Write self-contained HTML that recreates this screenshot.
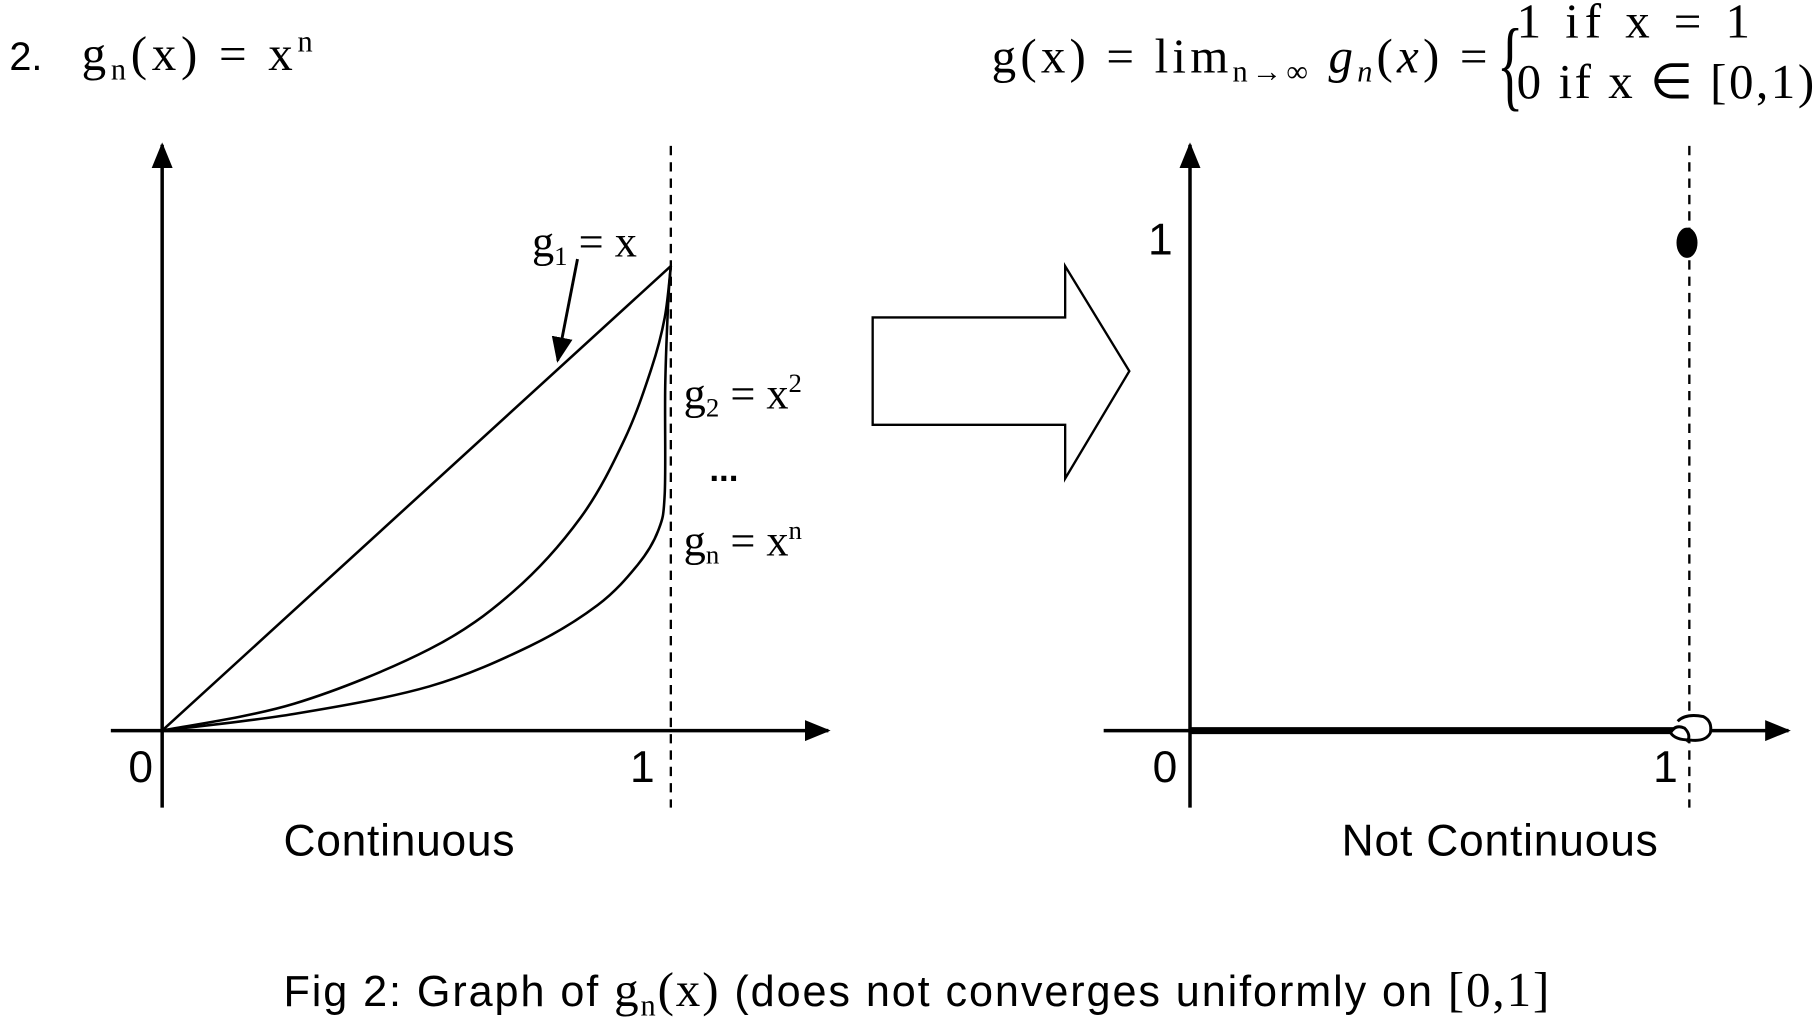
<!DOCTYPE html>
<html><head><meta charset="utf-8"><style>
html,body{margin:0;padding:0;background:#fff;}
svg{display:block;}
.s{font-family:"Liberation Sans",sans-serif;}
.r{font-family:"Liberation Serif",serif;}
</style></head><body>
<svg id="c" width="1820" height="1020" viewBox="0 0 1560 874" preserveAspectRatio="none" xmlns="http://www.w3.org/2000/svg">
<defs><marker id="ah" markerWidth="22" markerHeight="18" refX="20" refY="9" orient="auto" markerUnits="userSpaceOnUse"><path d="M0,0 L22,9 L0,18 z"/></marker></defs>
<g fill="#000">
<text class="s" x="8" y="60" font-size="34">2.</text>
<text class="r" x="70" y="60" font-size="42" textLength="198" lengthAdjust="spacing">g<tspan font-size="26" dy="8">n</tspan><tspan dy="-8">(x) = x</tspan><tspan font-size="26" dy="-16">n</tspan></text>
<text class="r" x="850" y="62" font-size="42" textLength="425" lengthAdjust="spacing">g(x) = lim<tspan font-size="26" dy="8">n→∞</tspan><tspan dy="-8" font-style="italic"> g</tspan><tspan font-size="26" dy="8" font-style="italic">n</tspan><tspan dy="-8">(</tspan><tspan font-style="italic">x</tspan><tspan>) =</tspan></text>
<text class="r" x="1283" y="84" font-size="86" transform="translate(1283,84) scale(0.55,1) translate(-1283,-84)">{</text>
<text class="r" x="1300" y="32" font-size="42" textLength="200" lengthAdjust="spacing">1   if x = 1</text>
<text class="r" x="1300" y="84" font-size="42" textLength="255" lengthAdjust="spacing">0   if x ∈ [0,1)</text>
</g>
<g id="left"></g>
<g><path d="M748,272 H913 V228 L968,318 L913,410 V364 H748 Z" fill="none" stroke="#000" stroke-width="2"/></g>
<g id="right"></g>
<text class="s" x="243" y="862" font-size="37" textLength="1085" lengthAdjust="spacing">Fig 2: Graph of  <tspan class="r" font-size="42">g</tspan><tspan class="r" font-size="26" dy="8">n</tspan><tspan class="r" font-size="42" dy="-8">(x)</tspan>  (does not converges uniformly on  <tspan class="r" font-size="42">[0,1]</tspan></text>
</svg>
<script>
const g1X=[0,1];
const g1Y=[0,1];
const g2X=[0,0.260,0.525,0.690,0.823,0.909,0.962,0.988,1];
const g2Y=[0,0.058,0.175,0.299,0.459,0.627,0.780,0.889,1];
const gnX=[0,0.260,0.525,0.723,0.856,0.935,0.975,0.988,0.989,0.995,1];
const gnY=[0,0.036,0.095,0.182,0.270,0.357,0.430,0.510,0.743,0.926,1];
const limX=[0,0.98];
const limY=[0,0];
const NS='http://www.w3.org/2000/svg';
function mk(p,t,a){const e=document.createElementNS(NS,t);for(const k in a)e.setAttribute(k,a[k]);p.appendChild(e);return e;}
function chart(gid,ox,x1,y1){
  const g=document.getElementById(gid);
  const sx=v=>ox+v*(x1-ox), sy=v=>626-v*(626-y1);
  return {g,sx,sy};
}
function smooth(pts){
  if(pts.length<3)return 'M'+pts.map(p=>p.join(',')).join(' L');
  let d='M'+pts[0][0]+','+pts[0][1];
  for(let i=0;i<pts.length-1;i++){
    const p0=pts[Math.max(0,i-1)],p1=pts[i],p2=pts[i+1],p3=pts[Math.min(pts.length-1,i+2)];
    const c1=[p1[0]+(p2[0]-p0[0])/6,p1[1]+(p2[1]-p0[1])/6];
    const c2=[p2[0]-(p3[0]-p1[0])/6,p2[1]-(p3[1]-p1[1])/6];
    d+=' C'+c1[0]+','+c1[1]+' '+c2[0]+','+c2[1]+' '+p2[0]+','+p2[1];
  }
  return d;
}
const L=chart('left',139,575,228);
let e;
e=mk(L.g,'line',{x1:139,y1:692,x2:139,y2:124,stroke:'#000','stroke-width':3,'marker-end':'url(#ah)'});

e=mk(L.g,'line',{x1:95,y1:626,x2:710,y2:626,stroke:'#000','stroke-width':3,'marker-end':'url(#ah)'});

e=mk(L.g,'line',{x1:575,y1:125,x2:575,y2:692,stroke:'#000','stroke-width':2,'stroke-dasharray':'8,6'});

[[g1X,g1Y,'curve-g1'],[g2X,g2Y,'curve-g2'],[gnX,gnY,'curve-gn']].forEach(([xs,ys,n])=>{
  const pts=xs.map((x,i)=>[L.sx(x),L.sy(ys[i])]);
  const p=mk(L.g,'path',{d:smooth(pts),fill:'none',stroke:'#000','stroke-width':2.2});
  
});
e=mk(L.g,'line',{x1:495,y1:222,x2:478,y2:309,stroke:'#000','stroke-width':2.5,'marker-end':'url(#ah)'});

function txt(p,x,y,s,cls,fs,n,html){const t=mk(p,'text',{x:x,y:y,'font-size':fs,class:cls});if(html)t.innerHTML=s;else t.textContent=s;return t;}
txt(L.g,456,220,'g<tspan font-size="23" dy="7">1</tspan><tspan dy="-7"> = x</tspan>','r',38,'g1-label',1);
txt(L.g,586,350,'g<tspan font-size="23" dy="7">2</tspan><tspan dy="-7"> = x</tspan><tspan font-size="23" dy="-14">2</tspan>','r',38,'g2-label',1);
txt(L.g,608,412,'...','s',30,'ellipsis',0).setAttribute('font-weight','bold');
txt(L.g,586,476,'g<tspan font-size="23" dy="7">n</tspan><tspan dy="-7"> = x</tspan><tspan font-size="23" dy="-14">n</tspan>','r',38,'gn-label',1);
txt(L.g,110,670,'0','s',38,'left-origin-label',0);
txt(L.g,540,670,'1','s',38,'left-x1-label',0);
txt(L.g,243,733,'Continuous','s',38,'left-caption',0).setAttribute('textLength','198');
const R=chart('right',1020,1448,208);
e=mk(R.g,'line',{x1:1020,y1:692,x2:1020,y2:124,stroke:'#000','stroke-width':3,'marker-end':'url(#ah)'});

e=mk(R.g,'line',{x1:946,y1:626,x2:1533,y2:626,stroke:'#000','stroke-width':3,'marker-end':'url(#ah)'});

e=mk(R.g,'line',{x1:1448,y1:125,x2:1448,y2:692,stroke:'#000','stroke-width':2,'stroke-dasharray':'8,6'});

e=mk(R.g,'line',{x1:R.sx(limX[0]),y1:R.sy(limY[0]),x2:R.sx(limX[1]),y2:R.sy(limY[1]),stroke:'#000','stroke-width':6});

e=mk(R.g,'ellipse',{cx:R.sx(1)-2,cy:R.sy(1),rx:8,ry:12,fill:'#000',stroke:'#000','stroke-width':2});

e=mk(R.g,'path',{d:'M1438,618 Q1445,611 1460,614 Q1468,618 1466,628 Q1462,636 1448,634 Q1436,634 1432,628 Q1436,620 1444,624 Q1450,630 1446,636',fill:'#fff',stroke:'#000','stroke-width':2.5});

txt(R.g,984,218,'1','s',38,'right-y1-label',0);
txt(R.g,988,670,'0','s',38,'right-origin-label',0);
txt(R.g,1417,670,'1','s',38,'right-x1-label',0);
txt(R.g,1150,733,'Not Continuous','s',38,'right-caption',0).setAttribute('textLength','271');
</script>
</body></html>
